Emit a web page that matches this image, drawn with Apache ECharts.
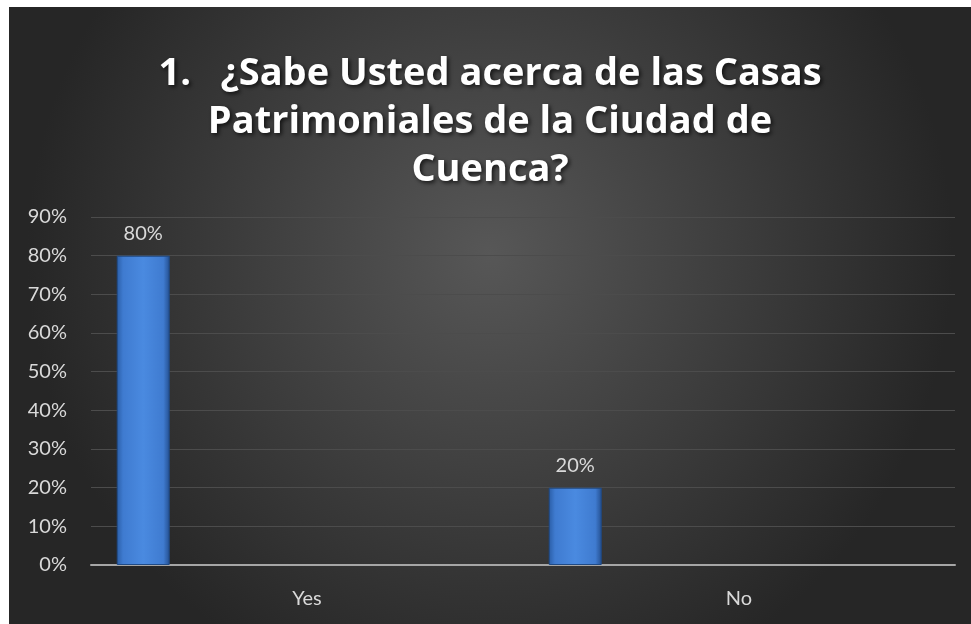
<!DOCTYPE html>
<html>
<head>
<meta charset="utf-8">
<script src="https://cdn.jsdelivr.net/npm/echarts@6/dist/echarts.min.js"></script>
<style>
html,body{margin:0;padding:0;background:#ffffff;}
#chart{position:absolute;left:9px;top:7px;width:962px;height:617px;}
</style>
</head>
<body>
<div id="chart"></div>
<script>
var categories = ["Yes", "No"];
var values = [80, 20];
var yTicks = [0, 10, 20, 30, 40, 50, 60, 70, 80, 90];
var titleText = "1.   ¿Sabe Usted acerca de las Casas\nPatrimoniales de la Ciudad de\nCuenca?";

var chart = echarts.init(document.getElementById('chart'));
var barColor = {
  type: 'linear', x: 0, y: 0, x2: 1, y2: 0,
  colorStops: [
    {offset: 0, color: '#2a5da6'},
    {offset: 0.12, color: '#3f7bd0'},
    {offset: 0.5, color: '#4a8ae0'},
    {offset: 0.88, color: '#3f7bd0'},
    {offset: 1, color: '#244f8f'}
  ]
};
var series = [{
  type: 'bar',
  data: values,
  barWidth: 53,
  barGap: '3%',
  itemStyle: {color: barColor, borderColor: '#1f4a85', borderWidth: 1},
  label: {
    show: true, position: 'top', distance: 12,
    formatter: '{c}%', color: '#d9d9d9', fontSize: 20,
    fontFamily: 'Lato'
  }
}];
for (var i = 0; i < 6; i++) {
  series.push({type: 'bar', data: [], barWidth: 53, barGap: '3%'});
}
chart.setOption({
  backgroundColor: {
    type: 'radial', x: 0.5, y: 0.4, r: 0.75,
    colorStops: [
      {offset: 0, color: '#575757'},
      {offset: 1, color: '#262626'}
    ]
  },
  animation: false,
  title: {
    text: titleText,
    left: 'center',
    top: 38,
    textStyle: {
      color: '#ffffff', fontSize: 38, fontWeight: 'bold', fontFamily: 'Open Sans',
      lineHeight: 48,
      textShadowColor: 'rgba(0,0,0,0.7)', textShadowBlur: 4,
      textShadowOffsetX: 2, textShadowOffsetY: 2
    }
  },
  grid: {left: 82, right: 16, top: 210, bottom: 59, containLabel: false},
  xAxis: {
    type: 'category',
    data: categories,
    axisLine: {lineStyle: {color: '#a6a6a6', width: 2}},
    axisTick: {show: false},
    axisLabel: {color: '#d9d9d9', fontSize: 20, fontFamily: 'Lato', margin: 24}
  },
  yAxis: {
    type: 'value',
    min: yTicks[0], max: yTicks[yTicks.length - 1], interval: 10,
    axisLine: {show: false},
    axisTick: {show: false},
    axisLabel: {color: '#d9d9d9', fontSize: 20, fontFamily: 'Lato', formatter: '{value}%', margin: 24},
    splitLine: {lineStyle: {color: '#4c4c4c', width: 1}}
  },
  series: series
});
</script>
</body>
</html>
